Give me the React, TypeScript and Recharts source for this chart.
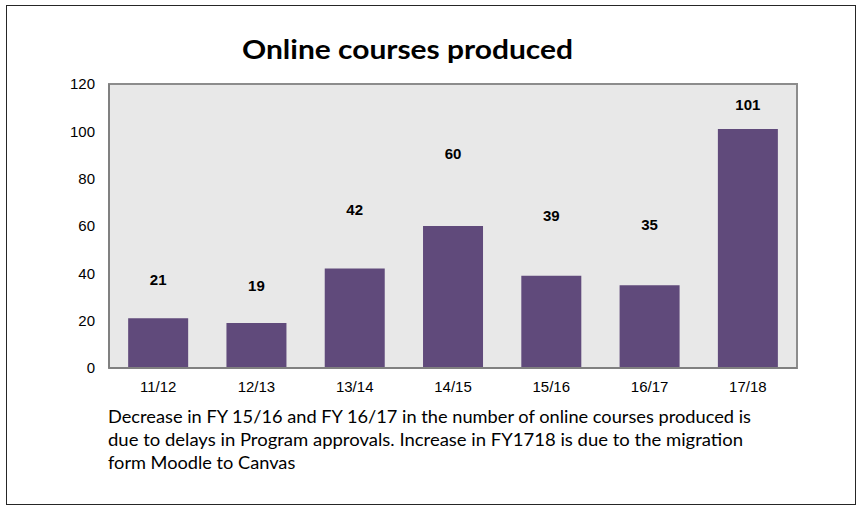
import {
  ComposedChart,
  Bar,
  Line,
  XAxis,
  YAxis,
  ReferenceArea,
  LabelList,
} from 'recharts';

// fiscal years and courses produced
const years = ['11/12', '12/13', '13/14', '14/15', '15/16', '16/17', '17/18'];
const courses = [21, 19, 42, 60, 39, 35, 101];
// where each data label sits, in axis units
const labelHeights = [37.4, 34.8, 67, 90.7, 64.5, 60.6, 111.3];
const yTicks = [0, 20, 40, 60, 80, 100, 120];

const captionLines = [
  'Decrease in FY 15/16 and FY 16/17 in the number of online courses produced is',
  'due to delays in Program approvals. Increase in FY1718 is due to the migration',
  'form Moodle to Canvas',
];
const captionWidths = [643, 635, undefined];

const data = years.map((year, i) => ({
  year,
  value: courses[i],
  labelPos: labelHeights[i],
}));

const axisFont = { fontSize: 15, fill: '#000', fontFamily: '"Liberation Sans", Arial, sans-serif' };

export default function App(): JSX.Element {
  return (
    <div style={{ position: 'relative', width: 856, height: 505 }}>
      <style>{'body { margin: 0; }'}</style>
      <div
        style={{
          position: 'absolute',
          left: 6,
          top: 5,
          width: 850,
          height: 500,
          boxSizing: 'border-box',
          border: '1.5px solid #262626',
          background: '#fff',
        }}
      />
      <div style={{ position: 'absolute', left: 0, top: 0 }}>
        <ComposedChart
          width={856}
          height={420}
          data={data}
          margin={{ top: 84, right: 59, bottom: 22, left: 0 }}
          barCategoryGap="19.5%"
        >
          <XAxis
            dataKey="year"
            height={30}
            tick={axisFont}
            tickLine={false}
            tickSize={11}
            tickMargin={2}
            axisLine={{ stroke: '#808080', strokeWidth: 2 }}
            interval={0}
          />
          <YAxis
            width={109}
            domain={[0, 120]}
            ticks={yTicks}
            tick={axisFont}
            tickLine={false}
            tickSize={12}
            tickMargin={2}
            axisLine={{ stroke: '#808080', strokeWidth: 2 }}
            interval={0}
          />
          <ReferenceArea
            y1={0}
            y2={120}
            fill="#E8E8E8"
            fillOpacity={1}
            stroke="#8c8c8c"
            strokeWidth={2}
          />
          <Bar dataKey="value" fill="#604A7B" isAnimationActive={false} />
          <Line
            dataKey="labelPos"
            stroke="none"
            dot={false}
            activeDot={false}
            isAnimationActive={false}
          >
            <LabelList
              dataKey="value"
              position="center"
              style={{
                fontSize: 15,
                fontWeight: 'bold',
                fill: '#000',
                fontFamily: '"Liberation Sans", Arial, sans-serif',
              }}
            />
          </Line>
        </ComposedChart>
      </div>
      <svg
        width={856}
        height={505}
        style={{ position: 'absolute', left: 0, top: 0, pointerEvents: 'none' }}
      >
        <text
          x={242}
          y={59}
          fontFamily="Lato, sans-serif"
          fontWeight="bold"
          fontSize={27}
          textLength={331}
          lengthAdjust="spacingAndGlyphs"
          fill="#000"
        >
          Online courses produced
        </text>
        {captionLines.map((line, i) => (
          <text
            key={i}
            x={108}
            y={422.7 + i * 23}
            fontFamily="Lato, sans-serif"
            fontSize={18.2}
            textLength={captionWidths[i]}
            lengthAdjust={captionWidths[i] ? 'spacingAndGlyphs' : undefined}
            fill="#000"
          >
            {line}
          </text>
        ))}
      </svg>
    </div>
  );
}
